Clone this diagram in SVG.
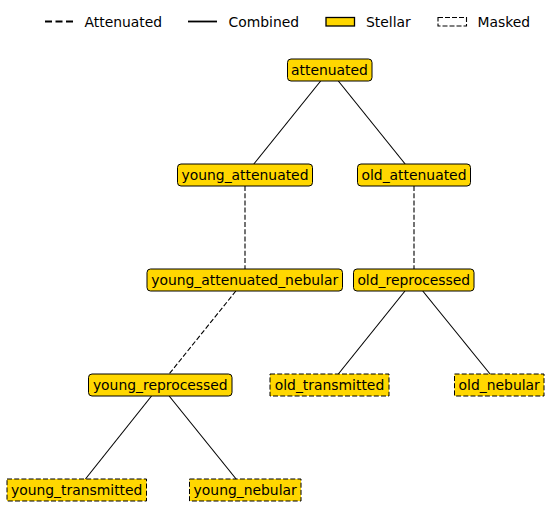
<svg xmlns="http://www.w3.org/2000/svg" width="549" height="521" viewBox="0 0 549 521">
<style>
text{font-family:"DejaVu Sans",sans-serif;font-size:13.9px;fill:#000}
.n text{text-anchor:middle}
.s{fill:#FFD700;stroke:#000;stroke-width:1}
.m{fill:#FFD700;stroke:#000;stroke-width:1;stroke-dasharray:5,2.2}
.e{stroke:#000;stroke-width:1.1;fill:none}
.d{stroke:#000;stroke-width:1.1;fill:none;stroke-dasharray:5,2.2}
.le{stroke:#000;stroke-width:1.8;fill:none}
.ld{stroke:#000;stroke-width:1.8;fill:none;stroke-dasharray:7,3.5}
</style>
<rect width="549" height="521" fill="#fff"/>
<g id="legend">
<line class="ld" x1="45" y1="21.5" x2="73" y2="21.5"/>
<text x="84.5" y="26.5">Attenuated</text>
<line class="le" x1="188" y1="21.5" x2="217" y2="21.5"/>
<text x="228.5" y="26.5">Combined</text>
<rect x="326" y="17.5" width="28.5" height="8.5" fill="#FFD700" stroke="#000" stroke-width="1.3"/>
<text x="366" y="26.5">Stellar</text>
<rect x="438" y="17.5" width="28.5" height="8.5" fill="none" stroke="#000" stroke-width="1.1" stroke-dasharray="5,2"/>
<text x="477.5" y="26.5">Masked</text>
</g>
<g id="connectors">
<line class="e" x1="320.65" y1="81" x2="253.85" y2="164"/>
<line class="e" x1="338.35" y1="81" x2="405.15" y2="164"/>
<line class="d" x1="245" y1="186" x2="245" y2="269"/>
<line class="d" x1="414" y1="186" x2="414" y2="269"/>
<line class="d" x1="235.86" y1="291" x2="169.14" y2="374"/>
<line class="e" x1="404.97" y1="291" x2="338.33" y2="374"/>
<line class="e" x1="422.73" y1="291" x2="490.07" y2="374"/>
<line class="e" x1="151.54" y1="396" x2="85.46" y2="479"/>
<line class="e" x1="169.17" y1="396" x2="236.13" y2="479"/>
</g>
<g class="n" id="attenuated"><rect class="s" x="287.5" y="59" width="84.5" height="22" rx="3.5"/><text x="329.5" y="75">attenuated</text></g>
<g class="n" id="young_attenuated"><rect class="s" x="177.5" y="164" width="135" height="22" rx="3.5"/><text x="245" y="180">young_attenuated</text></g>
<g class="n" id="old_attenuated"><rect class="s" x="357.5" y="164" width="113" height="22" rx="3.5"/><text x="414" y="180">old_attenuated</text></g>
<g class="n" id="young_attenuated_nebular"><rect class="s" x="147" y="269" width="195.5" height="22" rx="3.5"/><text x="244.7" y="285">young_attenuated_nebular</text></g>
<g class="n" id="old_reprocessed"><rect class="s" x="353.5" y="269" width="120.5" height="22" rx="3.5"/><text x="413.8" y="285">old_reprocessed</text></g>
<g class="n" id="young_reprocessed"><rect class="s" x="88.5" y="374" width="143.5" height="22" rx="3.5"/><text x="160.3" y="390">young_reprocessed</text></g>
<g class="n" id="old_transmitted"><rect class="m" x="270" y="374" width="119" height="22"/><text x="329.5" y="390">old_transmitted</text></g>
<g class="n" id="old_nebular"><rect class="m" x="454.5" y="374" width="89.5" height="22"/><text x="499.2" y="390">old_nebular</text></g>
<g class="n" id="young_transmitted"><rect class="m" x="7" y="479" width="139.5" height="22"/><text x="76.7" y="495">young_transmitted</text></g>
<g class="n" id="young_nebular"><rect class="m" x="189.5" y="479" width="111.5" height="22"/><text x="245.2" y="495">young_nebular</text></g>
</svg>
